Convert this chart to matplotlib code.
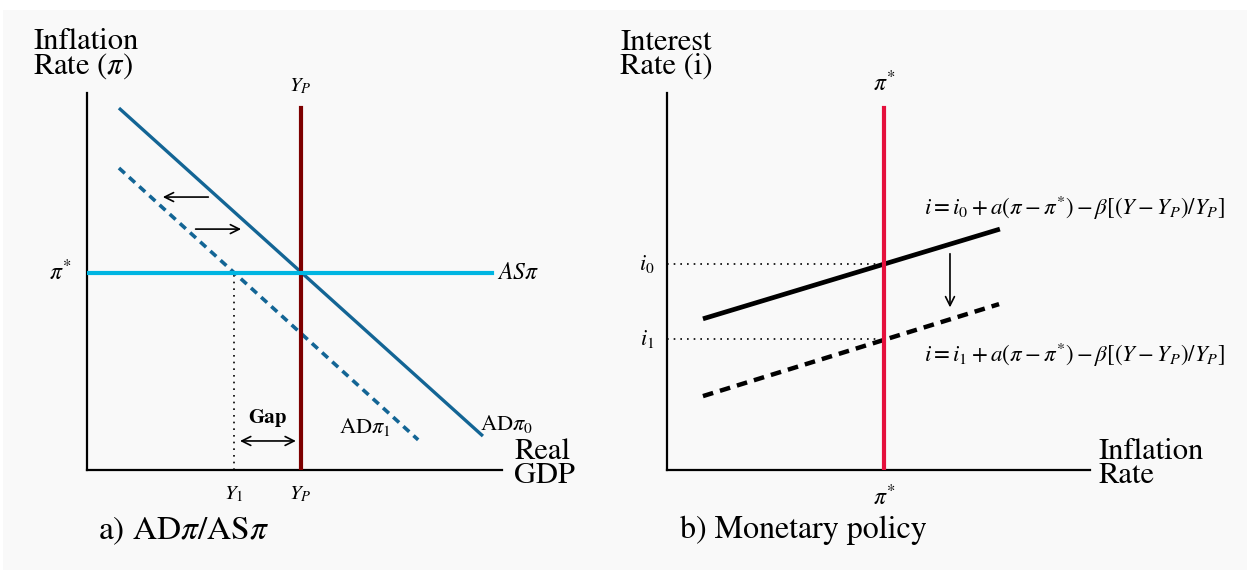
import matplotlib.pyplot as plt
from matplotlib.patches import Rectangle

plt.rcParams['font.family'] = ['STIXGeneral', 'DejaVu Serif']
plt.rcParams['mathtext.fontset'] = 'stix'

# Panel a) AD-pi / AS-pi (abstract units 0..10)
y_potential = 5.15
y_one = 3.54
pi_star = 5.23
ad0_x = [0.77, 9.54]
ad0_y = [9.60, 0.90]
ad1_x = [0.77, 7.98]
ad1_y = [8.01, 0.80]
as_x = [0.0, 9.76]
yp_top = 9.60
shift_left = ([2.99, 7.24], [1.76, 7.24])
shift_right = ([2.55, 6.39], [3.78, 6.39])
gap_y = 0.77

# Panel b) Monetary policy rule
pi_star_b = 5.13
rule0_x = [0.85, 7.87]
rule0_y = [4.01, 6.39]
rule1_x = [0.85, 7.85]
rule1_y = [1.96, 4.40]
i0 = 5.46
i1 = 3.47
i1_end = 4.94
cut_arrow = ([6.69, 5.81], [6.69, 4.24])

BLUE = '#136595'
CYAN = '#00b5e2'
DARKRED = '#7d0000'
RED = '#e5103c'
BG = '#f9f9f9'

fig = plt.figure(figsize=(12.5, 5.73), dpi=100)
fig.patch.set_facecolor('white')
fig.patches.append(Rectangle((3 / 1250, 3 / 573), 1244 / 1250, 560 / 573,
                             transform=fig.transFigure, facecolor=BG,
                             edgecolor='none', zorder=-10))

W, H = 1250, 573


def make_axes(x0, x1, y_top, y_bottom):
    ax = fig.add_axes([x0 / W, 1 - y_bottom / H, (x1 - x0) / W, (y_bottom - y_top) / H])
    ax.set_xlim(0, 10)
    ax.set_ylim(0, 10)
    ax.set_facecolor('none')
    for s in ['top', 'right']:
        ax.spines[s].set_visible(False)
    for s in ['left', 'bottom']:
        ax.spines[s].set_linewidth(1.6)
        ax.spines[s].set_color('black')
    ax.set_xticks([])
    ax.set_yticks([])
    return ax


# ---- left panel ----
ax1 = make_axes(87, 502, 93, 470)
ax1.plot(ad0_x, ad0_y, color=BLUE, lw=2.4, solid_capstyle='butt', zorder=3)
ax1.plot(ad1_x, ad1_y, color=BLUE, lw=2.6, ls=(0, (2.2, 1.6)), zorder=3)
ax1.plot([y_potential, y_potential], [0, yp_top], color=DARKRED, lw=3.0, zorder=4)
ax1.plot(as_x, [pi_star, pi_star], color=CYAN, lw=3.0, zorder=5)
ax1.plot([y_one, y_one], [0, pi_star], color='black', lw=1.2, ls=(0, (1, 3)), zorder=2)
arrow_kw = dict(arrowstyle='->', lw=1.2, color='black', mutation_scale=16)
ax1.annotate('', xy=shift_left[1], xytext=shift_left[0], arrowprops=arrow_kw)
ax1.annotate('', xy=shift_right[1], xytext=shift_right[0], arrowprops=arrow_kw)
ax1.annotate('', xy=(y_potential - 0.05, gap_y), xytext=(y_one + 0.08, gap_y),
             arrowprops=dict(arrowstyle='<->', lw=1.2, color='black', mutation_scale=16))
ax1.text((y_one + y_potential) / 2, 1.38, 'Gap', fontsize=15, fontweight='bold',
         ha='center', va='center')
ax1.text(y_potential, 9.92, '$Y_P$', fontsize=15, ha='center', va='bottom')
ax1.text(y_potential, -0.38, '$Y_P$', fontsize=15, ha='center', va='top')
ax1.text(y_one, -0.38, '$Y_1$', fontsize=15, ha='center', va='top')
ax1.text(-0.38, pi_star, r'$\pi^{*}$', fontsize=17, ha='right', va='center')
ax1.text(9.88, pi_star, r'$AS\pi$', fontsize=17, ha='left', va='center')
ax1.text(9.47, 1.06, r'AD$\pi_0$', fontsize=16, ha='left', va='baseline')
ax1.text(6.07, 0.98, r'AD$\pi_1$', fontsize=16, ha='left', va='baseline')
ax1.text(10.3, 0.15, 'Real\nGDP', fontsize=22, ha='left', va='center', linespacing=0.8)
ax1.text(-1.3, 10.32, 'Inflation\nRate ($\\pi$)', fontsize=22, ha='left', va='bottom',
         linespacing=0.8)
ax1.text(0.27, -1.6, r'a) AD$\pi/$AS$\pi$', fontsize=24, ha='left', va='center')

# ---- right panel ----
ax2 = make_axes(667, 1090, 93, 470)
ax2.plot(rule0_x, rule0_y, color='black', lw=3.4, solid_capstyle='butt', zorder=3)
ax2.plot(rule1_x, rule1_y, color='black', lw=3.2, ls=(0, (2.4, 1.6)), zorder=3)
ax2.plot([pi_star_b, pi_star_b], [0, yp_top], color=RED, lw=3.0, zorder=4)
ax2.plot([0, pi_star_b], [i0, i0], color='black', lw=1.2, ls=(0, (1, 3)), zorder=2)
ax2.plot([0, i1_end], [i1, i1], color='black', lw=1.2, ls=(0, (1, 3)), zorder=2)
ax2.annotate('', xy=cut_arrow[1], xytext=cut_arrow[0], arrowprops=arrow_kw)
ax2.text(pi_star_b, 9.92, r'$\pi^{*}$', fontsize=17, ha='center', va='bottom')
ax2.text(pi_star_b, -0.38, r'$\pi^{*}$', fontsize=17, ha='center', va='top')
ax2.text(-0.3, i0, '$i_0$', fontsize=16, ha='right', va='center')
ax2.text(-0.3, i1, '$i_1$', fontsize=16, ha='right', va='center')
ax2.text(9.65, 6.95, r'$i = i_0 + a(\pi - \pi^{*}) - \beta[(Y - Y_P)/Y_P]$', fontsize=16.5,
         ha='center', va='center')
ax2.text(9.65, 3.05, r'$i = i_1 + a(\pi - \pi^{*}) - \beta[(Y - Y_P)/Y_P]$', fontsize=16.5,
         ha='center', va='center')
ax2.text(10.2, 0.15, 'Inflation\nRate', fontsize=22, ha='left', va='center', linespacing=0.8)
ax2.text(-1.1, 10.32, 'Interest\nRate (i)', fontsize=22, ha='left', va='bottom',
         linespacing=0.8)
ax2.text(0.31, -1.6, 'b) Monetary policy', fontsize=23, ha='left', va='center')

fig.savefig('out.png', dpi=100, facecolor=fig.get_facecolor())
